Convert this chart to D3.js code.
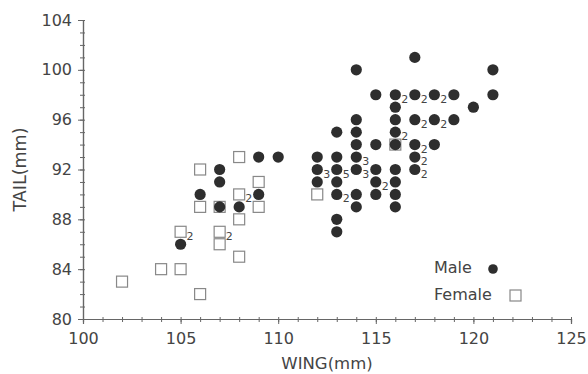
<!DOCTYPE html>
<html>
<head>
<meta charset="utf-8">
<script src="https://cdn.jsdelivr.net/npm/d3@7"></script>
<style>
  body { margin: 0; background: #fff; }
  svg { font-family: "DejaVu Sans", sans-serif; }
</style>
</head>
<body>
<div id="chart"></div>
<script>
// [wing, tail, count]
const male = [
  [114, 100, 1], [117, 101, 1], [121, 100, 1],
  [115, 98, 1], [116, 98, 2], [117, 98, 2], [118, 98, 2], [119, 98, 1], [121, 98, 1],
  [116, 97, 1], [120, 97, 1],
  [114, 96, 1], [116, 96, 1], [117, 96, 2], [118, 96, 2], [119, 96, 1],
  [113, 95, 1], [114, 95, 1], [116, 95, 2],
  [114, 94, 1], [115, 94, 1], [116, 94, 1], [117, 94, 2], [118, 94, 1],
  [109, 93, 1], [110, 93, 1], [112, 93, 1], [113, 93, 1], [114, 93, 3], [117, 93, 2],
  [107, 92, 1], [112, 92, 3], [113, 92, 5], [114, 92, 3], [115, 92, 1], [116, 92, 1], [117, 92, 2],
  [107, 91, 1], [112, 91, 1], [113, 91, 1], [115, 91, 2], [116, 91, 1],
  [106, 90, 1], [109, 90, 1], [113, 90, 2], [114, 90, 1], [115, 90, 1], [116, 90, 1],
  [107, 89, 1], [108, 89, 1], [114, 89, 1], [116, 89, 1],
  [113, 88, 1], [113, 87, 1], [105, 86, 1]
];

const female = [
  [102, 83, 1], [104, 84, 1], [105, 84, 1], [106, 82, 1], [108, 85, 1],
  [105, 87, 2], [107, 87, 2], [107, 86, 1],
  [106, 92, 1], [108, 93, 1], [106, 89, 1], [107, 89, 1],
  [108, 90, 2], [108, 88, 1], [109, 91, 1], [109, 89, 1],
  [112, 90, 1], [116, 94, 1]
];

const xTicks = [100, 105, 110, 115, 120, 125];
const yTicks = [80, 84, 88, 92, 96, 100, 104];
const legendItems = ["Male", "Female"];

const W = 588, H = 374;
const margin = { top: 20, right: 17, bottom: 55, left: 83 };
const width = W - margin.left - margin.right;
const height = H - margin.top - margin.bottom;

const svg = d3.select("#chart").append("svg")
  .attr("width", W).attr("height", H);
const g = svg.append("g").attr("transform", `translate(${margin.left},${margin.top})`);

const x = d3.scaleLinear().domain([100, 125]).range([0, width]);
const y = d3.scaleLinear().domain([80, 104]).range([height, 0]);

const axisColor = "#666";
const textColor = "#444";

// minor ticks, one per mm
g.append("g").attr("transform", `translate(0,${height})`)
  .call(d3.axisBottom(x).tickValues(d3.range(100, 126)).tickSize(3).tickFormat(""))
  .call(a => a.selectAll("line").attr("y1", -2));
g.append("g")
  .call(d3.axisLeft(y).tickValues(d3.range(80, 105)).tickSize(3).tickFormat(""))
  .call(a => a.selectAll("line").attr("x1", 2));

// major ticks
const xAxis = g.append("g").attr("transform", `translate(0,${height})`)
  .call(d3.axisBottom(x).tickValues(xTicks).tickSize(5).tickPadding(9));
const yAxis = g.append("g")
  .call(d3.axisLeft(y).tickValues(yTicks).tickSize(5).tickPadding(6));

g.selectAll(".domain").attr("stroke", axisColor).attr("stroke-width", 1.2);
g.selectAll(".tick line").attr("stroke", axisColor);
[xAxis, yAxis].forEach(a => a.selectAll("text")
  .attr("fill", textColor).style("font-size", "16px").style("font-family", "DejaVu Sans"));

// axis titles
svg.append("text")
  .attr("x", margin.left + x(112.5)).attr("y", 369)
  .attr("text-anchor", "middle").attr("fill", textColor)
  .style("font-size", "16.5px").text("WING(mm)");
svg.append("text")
  .attr("transform", `translate(26,${margin.top + y(92)}) rotate(-90)`)
  .attr("text-anchor", "middle").attr("fill", textColor)
  .style("font-size", "17.5px").text("TAIL(mm)");

const sq = 11, r = 5.6;

// females
g.selectAll("rect.f").data(female).enter().append("rect")
  .attr("class", "f")
  .attr("x", d => x(d[0]) - sq / 2).attr("y", d => y(d[1]) - sq / 2)
  .attr("width", sq).attr("height", sq)
  .attr("fill", "#fff").attr("stroke", "#888").attr("stroke-width", 1.2);

// males
g.selectAll("circle.m").data(male).enter().append("circle")
  .attr("class", "m")
  .attr("cx", d => x(d[0])).attr("cy", d => y(d[1])).attr("r", r)
  .attr("fill", "#2e2e2e");

// counts
g.selectAll("text.n").data(male.concat(female).filter(d => d[2] > 1)).enter().append("text")
  .attr("class", "n")
  .attr("x", d => x(d[0]) + 6).attr("y", d => y(d[1]) + 8)
  .attr("fill", textColor).style("font-size", "11px")
  .text(d => d[2]);

// legend
const legend = svg.append("g");
legend.selectAll("text").data(legendItems).enter().append("text")
  .attr("x", 434).attr("y", (d, i) => 273 + i * 27)
  .attr("fill", textColor).style("font-size", "16px")
  .text(d => d);
legend.append("circle").attr("cx", 493).attr("cy", 269).attr("r", 4.8).attr("fill", "#2e2e2e");
legend.append("rect").attr("x", 510).attr("y", 290).attr("width", 11).attr("height", 11)
  .attr("fill", "#fff").attr("stroke", "#888").attr("stroke-width", 1.2);
</script>
</body>
</html>
